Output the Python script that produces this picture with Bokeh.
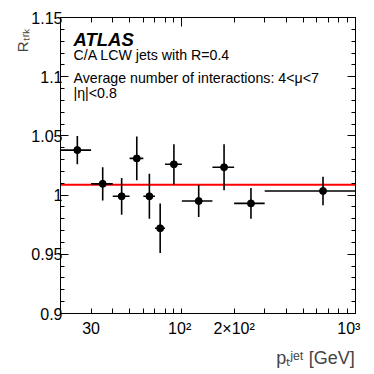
import numpy as np
from bokeh.plotting import figure
from bokeh.models import FixedTicker, LogAxis, LinearAxis, Span, Label
from bokeh.embed import file_html
from bokeh.resources import INLINE

# ---- data ----
pt_lo = [20, 30, 40, 50, 60, 70, 80, 100, 150, 200, 300]
pt_hi = [30, 40, 50, 60, 70, 80, 100, 150, 200, 300, 1000]
pt_center = [25, 35, 45, 55, 65, 75, 90, 125, 175, 250, 650]
r_trk = [1.038, 1.0095, 0.999, 1.031, 0.999, 0.972, 1.026, 0.995, 1.0235, 0.993, 1.0035]
r_err = [0.012, 0.014, 0.0155, 0.0185, 0.019, 0.021, 0.017, 0.0135, 0.0195, 0.013, 0.012]
fit_value = 1.0087

NB = "\u00a0"  # non-breaking space used only to shift centred labels
x_tick_major = [30, 100, 200, 1000]
x_tick_label = ["30", "10²" + NB, "2×10²", "10³" + NB * 3]
x_tick_minor = [40, 50, 60, 70, 80, 90, 300, 400, 500, 600, 700, 800, 900]
x_top_major = [100, 1000]
x_top_minor = [30, 40, 50, 60, 70, 80, 90, 200, 300, 400, 500, 600, 700, 800, 900]
y_tick_major = [0.9, 0.95, 1.0, 1.05, 1.1, 1.15]
y_tick_label = ["0.9", "0.95", "1", "1.05", "1.1", "1.15"]
y_tick_minor = [round(0.9 + 0.01 * i, 2) for i in range(26)]

x_title = "pₜʲᵉᵗ [GeV]"
y_title = "Rₜᵣₖ"
info_lines = ["C/A LCW jets with R=0.4", "Average number of interactions: 4<μ<7", "|η|<0.8"]

X_MIN, X_MAX = 20, 1000
Y_MIN, Y_MAX = 0.9, 1.15
FONT = "Liberation Sans"

p = figure(width=374, height=374, x_axis_type="log",
           x_range=(X_MIN, X_MAX), y_range=(Y_MIN, Y_MAX),
           output_backend="svg", toolbar_location=None,
           min_border_left=60, min_border_right=19,
           min_border_top=17, min_border_bottom=61)
p.grid.visible = False
p.outline_line_color = "black"
p.background_fill_color = "white"
p.border_fill_color = "white"

def style_axis(ax, major_len, minor_len, show_labels, standoff=3):
    ax.axis_line_color = "black"
    ax.axis_line_width = 1
    ax.major_tick_line_color = "black"
    ax.minor_tick_line_color = "black"
    ax.major_tick_in = major_len
    ax.major_tick_out = 0
    ax.minor_tick_in = minor_len
    ax.minor_tick_out = 0
    if show_labels:
        ax.major_label_text_font = FONT
        ax.major_label_text_font_size = "16px"
        ax.major_label_text_color = "black"
        ax.major_label_standoff = standoff
    else:
        ax.major_label_text_font_size = "1px"
        ax.major_label_text_alpha = 0
        ax.major_label_standoff = 0

# y axes (title pushed to the top end with leading non-breaking spaces)
yax = p.yaxis[0]
yax.ticker = FixedTicker(ticks=y_tick_major, minor_ticks=y_tick_minor)
yax.major_label_overrides = dict(zip(y_tick_major, y_tick_label))
style_axis(yax, 8, 4, True, standoff=-2)
yax.axis_label = NB * 60 + y_title
yax.axis_label_text_font = FONT
yax.axis_label_text_font_size = "15px"
yax.axis_label_text_font_style = "normal"
yax.axis_label_standoff = -3
yax_r = LinearAxis(ticker=FixedTicker(ticks=y_tick_major, minor_ticks=y_tick_minor))
style_axis(yax_r, 8, 4, False)
p.add_layout(yax_r, "right")

# x axes (title pushed to the right end with leading non-breaking spaces)
xax = p.xaxis[0]
xax.ticker = FixedTicker(ticks=x_tick_major, minor_ticks=x_tick_minor)
xax.major_label_overrides = dict(zip(x_tick_major, x_tick_label))
style_axis(xax, 5, 5, True, standoff=6)
xax.axis_label = NB * 43 + x_title
xax.axis_label_text_font = FONT
xax.axis_label_text_font_size = "18px"
xax.axis_label_text_font_style = "normal"
xax.axis_label_standoff = 8
xax_t = LogAxis(ticker=FixedTicker(ticks=x_top_major, minor_ticks=x_top_minor))
style_axis(xax_t, 9, 5, False)
p.add_layout(xax_t, "above")

# fit line
p.add_layout(Span(location=fit_value, dimension="width", line_color="#ff0000",
                  line_width=2, level="underlay"))

# error bars and markers
r = np.array(r_trk)
e = np.array(r_err)
p.segment(x0=pt_lo, y0=r, x1=pt_hi, y1=r, line_color="black", line_width=1.6)
p.segment(x0=pt_center, y0=r - e, x1=pt_center, y1=r + e, line_color="black", line_width=1.6)
p.scatter(x=pt_center, y=r, size=7, color="black")

def lab(text, xo, yo, size, style="normal"):
    p.add_layout(Label(x=X_MIN, y=Y_MAX, x_offset=xo, y_offset=yo, text=text, text_font=FONT,
                       text_font_size=f"{size}px", text_font_style=style,
                       text_align="left", text_baseline="alphabetic",
                       text_color="black"))

# ATLAS + info (inside the frame)
lab("ATLAS", 13, -22, 18.5, style="bold italic")
for txt, yo in zip(info_lines, [-37, -60.5, -75.5]):
    lab(txt, 13, yo, 14.2)

open("out.html", "w").write(file_html(p, INLINE))
